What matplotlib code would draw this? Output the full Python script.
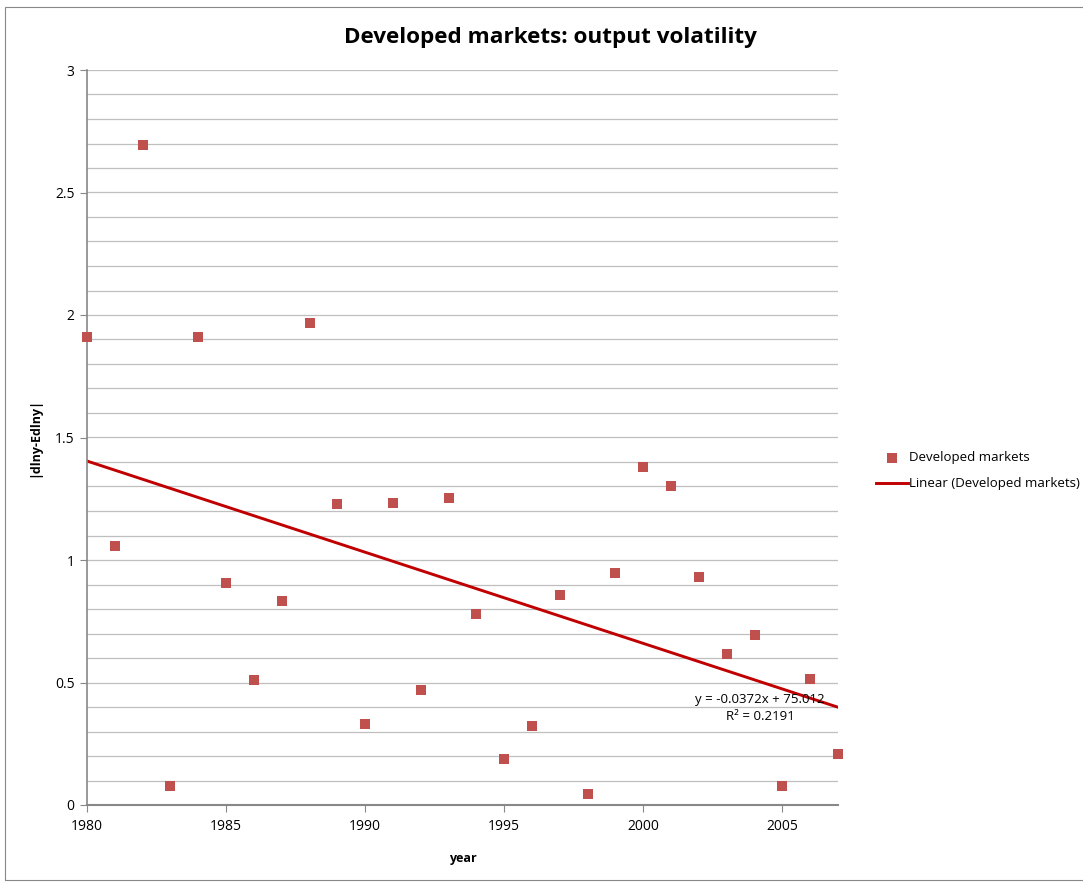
import numpy as np
import matplotlib
matplotlib.use("Agg")
import matplotlib.pyplot as plt
from matplotlib.patches import Rectangle

plt.rcParams['font.family'] = ['Open Sans', 'DejaVu Sans']

# Daten
jahre = [1980, 1981, 1982, 1983, 1984, 1985, 1986, 1987, 1988, 1989,
         1990, 1991, 1992, 1993, 1994, 1995, 1996, 1997, 1998, 1999,
         2000, 2001, 2002, 2003, 2004, 2005, 2006, 2007]
volatilitaet = [1.910, 1.057, 2.694, 0.078, 1.910, 0.906, 0.510, 0.833, 1.967, 1.229,
                0.331, 1.233, 0.469, 1.253, 0.780, 0.188, 0.322, 0.857, 0.045, 0.947,
                1.380, 1.302, 0.931, 0.616, 0.694, 0.078, 0.514, 0.208]
serie = "Developed markets"
trend_text = "y = -0.0372x + 75.012\nR² = 0.2191"

fig = plt.figure(figsize=(10.83, 8.82), dpi=100)
ax = fig.add_axes([87 / 1083, 1 - 805 / 882, (838 - 87) / 1083, (805 - 70) / 882])

# Rahmen um das Diagramm
fig.patches.append(Rectangle((5 / 1083, 0.002), 1.2, 1 - 7 / 882 - 0.002,
                             transform=fig.transFigure, fill=False,
                             edgecolor="#888888", linewidth=0.8))

# Gitterlinien
for yv in np.arange(0.1, 3.01, 0.1):
    ax.axhline(yv, color="#bfbfbf", linewidth=0.9, zorder=0)

ax.scatter(jahre, volatilitaet, marker="s", s=62, color="#C0504D",
           linewidths=0, zorder=3, label=serie, clip_on=False)

# Trendlinie
steigung, achse = np.polyfit(jahre, volatilitaet, 1)
xs = np.array([1980, 2007])
ax.plot(xs, steigung * xs + achse, color="#C00000", linewidth=2.1,
        zorder=2, label="Linear (" + serie + ")")

ax.text(2004.2, 0.395, trend_text, ha="center", va="center", fontsize=9.5,
        linespacing=1.35, color="#000000", zorder=4)

ax.set_xlim(1980, 2007)
ax.set_ylim(0, 3)
ax.set_xticks([1980, 1985, 1990, 1995, 2000, 2005])
ax.set_yticks([0, 0.5, 1, 1.5, 2, 2.5, 3])
ax.set_yticklabels(["0", "0.5", "1", "1.5", "2", "2.5", "3"])
ax.tick_params(axis="both", direction="out", length=5, color="#888888",
               labelsize=10, pad=4)
ax.tick_params(axis="x", pad=5)
for s in ["top", "right"]:
    ax.spines[s].set_visible(False)
ax.spines["left"].set_color("#888888")
ax.spines["bottom"].set_color("#888888")
ax.spines["left"].set_linewidth(1.2)
ax.spines["bottom"].set_linewidth(1.5)

fig.text(550 / 1083, 1 - 38 / 882, "Developed markets: output volatility",
         fontsize=16.2, fontweight="bold", ha="center", va="center")
ax.set_xlabel("year", fontsize=9, fontweight="bold", labelpad=13)
ax.set_ylabel("|dlny-Edlny|", fontsize=9, fontweight="bold", labelpad=10)

ax.legend(loc="center left", bbox_to_anchor=(1.035, 0.455), frameon=False,
          fontsize=9.5, handlelength=2.4, handletextpad=0.1,
          labelspacing=1.0)

plt.savefig("out.png", dpi=100)
plt.close()
